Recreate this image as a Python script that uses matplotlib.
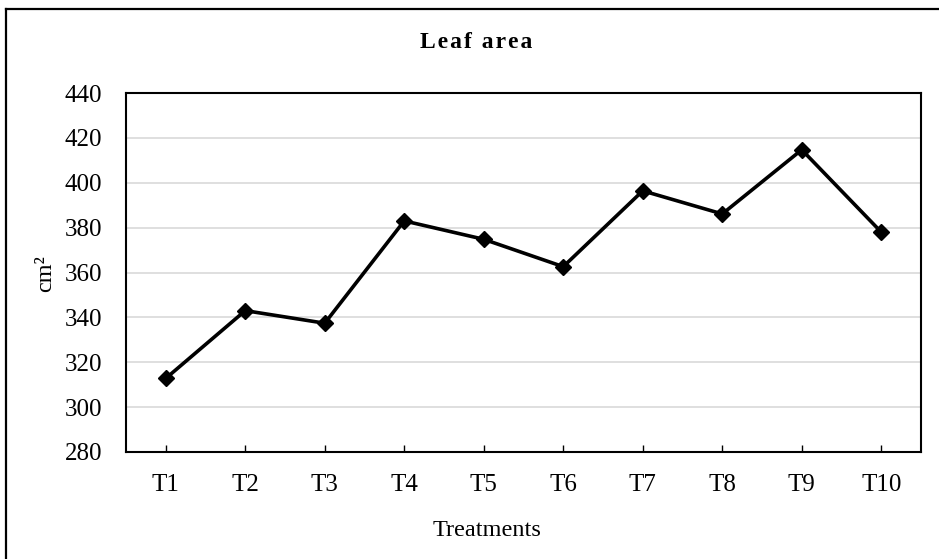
import matplotlib
matplotlib.use('Agg')
import matplotlib.pyplot as plt
from matplotlib.lines import Line2D

plt.rcParams['font.family'] = ['Liberation Serif', 'DejaVu Serif']

# data
treatments = ['T1', 'T2', 'T3', 'T4', 'T5', 'T6', 'T7', 'T8', 'T9', 'T10']
leaf_area = [312.8, 343.0, 337.4, 383.0, 374.8, 362.6, 396.4, 386.1, 414.7, 378.0]
y_ticks = [280, 300, 320, 340, 360, 380, 400, 420, 440]
title = 'Leaf area'

W, H = 939, 559
fig = plt.figure(figsize=(W / 100, H / 100), dpi=100)
ax = fig.add_axes([126 / W, 1 - 452 / H, 795 / W, 359 / H])

x = list(range(len(treatments)))
ax.plot(x, leaf_area, color='black', lw=2.6, marker='D', markersize=8.5,
        zorder=3, clip_on=False)

ax.set_xlim(-0.5, len(treatments) - 0.5)
ax.set_ylim(280, 440)
ax.set_yticks(y_ticks)
ax.set_xticks(x)
ax.set_xticklabels(treatments)

ax.grid(axis='y', color='#d9d9d9', lw=1.2)
ax.set_axisbelow(True)
for s in ax.spines.values():
    s.set_linewidth(1.5)
    s.set_color('black')

ax.tick_params(axis='y', length=0, pad=17, labelsize=18)
ax.tick_params(axis='x', direction='in', length=5, width=1, pad=16, labelsize=18)

fig.text(487 / W, 1 - 530 / H, 'Treatments', ha='center', va='center', fontsize=17.5)
fig.text(46 / W, 1 - 274 / H, 'cm²', ha='center', va='center', rotation=90, fontsize=17.5)

# title is letter-spaced in the original
hs = '\u200a'
spaced = (hs + ' ' + hs).join(hs.join(w) for w in title.split(' '))
fig.text(476 / W, 1 - 43 / H, spaced, ha='center', va='center', fontsize=17, fontweight='bold')

# outer frame (only top and left edges visible)
fig.add_artist(Line2D([6 / W, 6 / W], [0, 1 - 9 / H], transform=fig.transFigure,
                      color='black', lw=1.6))
fig.add_artist(Line2D([6 / W, 1], [1 - 9 / H, 1 - 9 / H], transform=fig.transFigure,
                      color='black', lw=1.6))

fig.savefig('out.png', dpi=100)
